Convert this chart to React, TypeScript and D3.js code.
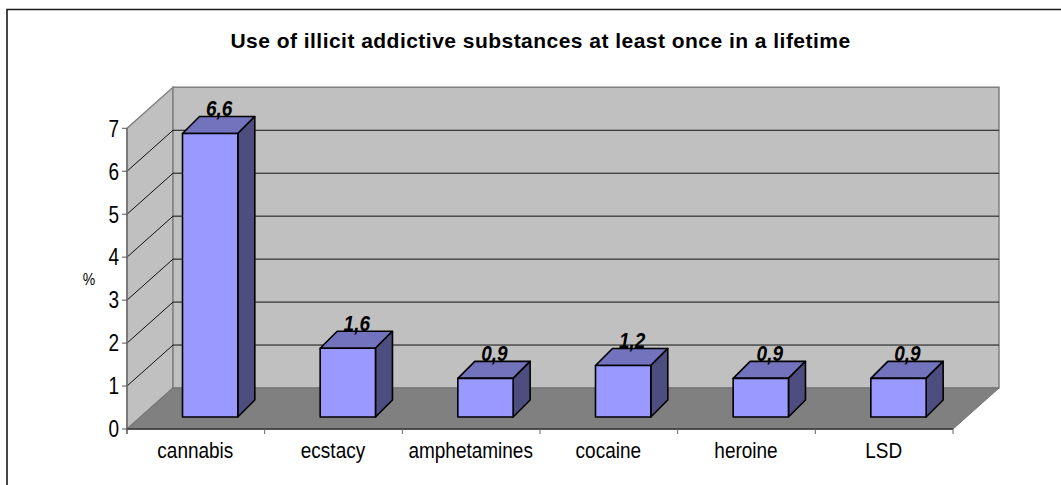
import React from "react";
import * as d3 from "d3";

const categories = ["cannabis", "ecstacy", "amphetamines", "cocaine", "heroine", "LSD"];
const values = [6.6, 1.6, 0.9, 1.2, 0.9, 0.9];
const valueLabels = ["6,6", "1,6", "0,9", "1,2", "0,9", "0,9"];
const yTicks = [0, 1, 2, 3, 4, 5, 6, 7];
const title = "Use of illicit addictive substances at least once in a lifetime";
const yTitle = "%";

const W = 1061, H = 485;
const X0 = 127, X1 = 953, Y0 = 429, Y7 = 128.3;
const DX = 46, DY = 41;
const BAR_OFF = 55.5, BAR_W = 55.3, BAR_LIFT = 12, BDX = 17, BDY = 17;
const FONT = "'Liberation Sans', Arial, sans-serif";

export default function App() {
  const x = d3.scaleBand<string>().domain(categories).range([X0, X1]).padding(0);
  const y = d3.scaleLinear().domain([0, 7]).range([Y0, Y7]);
  const poly = (pts: [number, number][]) => d3.line()(pts)! + "Z";
  const edgeX = [X0, ...categories.map((c) => x(c)! + x.bandwidth())];

  return (
    <svg width={W} height={H} viewBox={`0 0 ${W} ${H}`}
      style={{ position: "fixed", left: 0, top: 0, background: "#fff", fontFamily: FONT }}>
      {/* outer frame */}
      <path d={`M7 ${H}V9.5H${W}`} fill="none" stroke="#1a1a1a" strokeWidth={1.6} />

      <text x={540.5} y={48} textAnchor="middle" fontSize={21} letterSpacing={0.47} fontWeight="bold" fill="#000"
        transform="">{title}</text>

      {/* walls */}
      <path d={poly([[X0, Y0], [X0, y(7)], [X0 + DX, y(7) - DY], [X0 + DX, Y0 - DY]])} fill="#c0c0c0" stroke="#808080" strokeWidth={1.5} />
      <path d={poly([[X0 + DX, Y0 - DY], [X0 + DX, y(7) - DY], [X1 + DX, y(7) - DY], [X1 + DX, Y0 - DY]])} fill="#c0c0c0" stroke="#808080" strokeWidth={1.5} />
      <path d={poly([[X0, Y0], [X0 + DX, Y0 - DY], [X1 + DX, Y0 - DY], [X1, Y0]])} fill="#808080" stroke="#707070" strokeWidth={1} />

      {/* gridlines */}
      {yTicks.filter((t) => t > 0 && t < 7).map((t) => (
        <path key={t} fill="none" stroke="#111" strokeWidth={1}
          d={`M${X0} ${y(t)}L${X0 + DX} ${y(t) - DY}H${X1 + DX}`} />
      ))}

      {/* axes */}
      <line x1={X0} x2={X0} y1={y(7)} y2={Y0 + 5} stroke="#707070" strokeWidth={1.5} />
      <line x1={X0} x2={X1} y1={Y0} y2={Y0} stroke="#333" strokeWidth={1.5} />
      {yTicks.map((t) => (
        <g key={t}>
          <line x1={X0 - 5} x2={X0} y1={y(t)} y2={y(t)} stroke="#555" strokeWidth={1} />
          <text transform={`translate(${X0 - 8},${y(t) + 8.3}) scale(1,1.22)`} textAnchor="end" fontSize={19} fill="#000">{t}</text>
        </g>
      ))}
      {edgeX.map((e, i) => (
        <line key={i} x1={e} x2={e} y1={Y0} y2={Y0 + 5} stroke="#666" strokeWidth={1} />
      ))}
      <text transform="translate(89,285) scale(1,1.15)" textAnchor="middle" fontSize={14} fill="#000">{yTitle}</text>

      {/* bars */}
      {categories.map((c, i) => {
        const l = x(c)! + BAR_OFF, r = l + BAR_W;
        const b = Y0 - BAR_LIFT, t = y(values[i]) - BAR_LIFT;
        return (
          <g key={c} stroke="#000" strokeWidth={1.6} strokeLinejoin="round">
            <path d={poly([[l, t], [l + BDX, t - BDY], [r + BDX, t - BDY], [r, t]])} fill="#7373bd" />
            <path d={poly([[r, t], [r + BDX, t - BDY], [r + BDX, b - BDY], [r, b]])} fill="#4d4d80" />
            <rect x={l} y={t} width={BAR_W} height={b - t} fill="#9999ff" />
          </g>
        );
      })}

      {/* value labels */}
      {categories.map((c, i) => (
        <text key={c} transform={`translate(${x(c)! + BAR_OFF + BAR_W / 2 + 9},${y(values[i]) - BAR_LIFT - 17.5}) scale(1,1.15)`}
          textAnchor="middle" fontSize={19} fontWeight="bold" fontStyle="italic" fill="#000">{valueLabels[i]}</text>
      ))}

      {/* category labels */}
      {categories.map((c) => (
        <text key={c} transform={`translate(${x(c)! + x.bandwidth() / 2 - 0.5},458.3) scale(1,1.12)`} textAnchor="middle" fontSize={19} fill="#000">{c}</text>
      ))}
    </svg>
  );
}
